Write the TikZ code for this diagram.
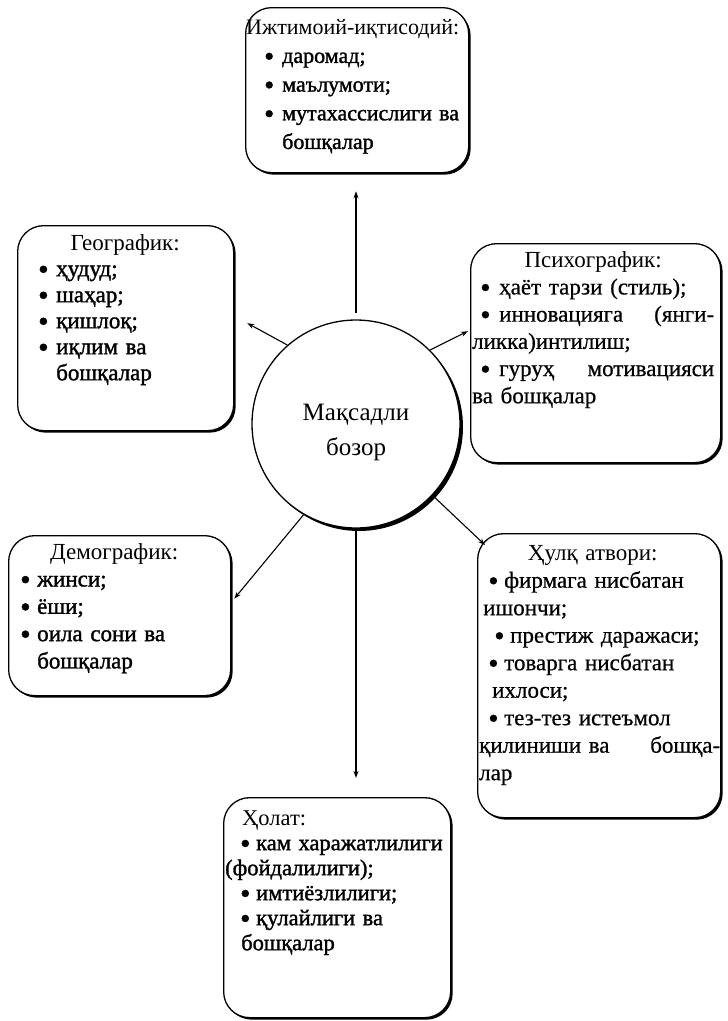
\documentclass[tikz,border=0pt]{standalone}
\usepackage{graphicx}
\usepackage{fontspec}
\setmainfont{Liberation Serif}
\newfontfamily\heavyfont{Liberation Serif}[FakeBold=1.4]
\newfontfamily\medfont{Liberation Serif}[FakeBold=0.6]
\usetikzlibrary{shadows,arrows.meta}
% large bullet placed #1 from the line start, text begins #2 later
\newcommand\bigdot{\raisebox{-0.13em}{\scalebox{1.3}{\textbullet}}}
\newcommand\dotat[2]{\hspace*{#1}\makebox[#2][l]{\bigdot}}
\begin{document}
\begin{tikzpicture}[x=1pt,y=-1pt,
  card/.style={draw, line width=1.3pt, fill=white, rounded corners=26pt,
    anchor=north west, inner sep=0pt,
    drop shadow={shadow xshift=2pt, shadow yshift=-2pt, opacity=1, fill=black}},
  hub/.style={circle, draw, line width=1.3pt, fill=white, inner sep=0pt,
    minimum size=208pt,
    drop shadow={shadow xshift=3pt, shadow yshift=-3pt, opacity=1, fill=black}},
  txt/.style={anchor=north west, inner sep=0pt, align=left},
  arr/.style={line width=1.1pt, -{Stealth[length=7pt,width=5pt]}}]
\useasboundingbox (0,0) rectangle (728,1021);

% boxes
\node[card, minimum width=223pt, minimum height=165pt] (top) at (245,7) {};
\node[card, minimum width=216pt, minimum height=205pt] (geo) at (17,225) {};
\node[card, minimum width=250pt, minimum height=219pt] (psy) at (470,243) {};
\node[card, minimum width=222pt, minimum height=160pt] (demo) at (8,535) {};
\node[card, minimum width=243pt, minimum height=284pt] (beh) at (477,533) {};
\node[card, minimum width=227pt, minimum height=220pt] (hol) at (223,797) {};
\node[hub] (c) at (356,424) {};
\node[font=\fontsize{25}{35}\selectfont, align=center] (ctext) at (356,432) {Мақсадли\\бозор};

% box texts
\node[txt, text width=222pt, font=\heavyfont\fontsize{22}{28.7}\selectfont] (toptext) at (246,13.9) {%
\strut\mbox{\rmfamily Ижтимоий-иқтисодий:}\\
\dotat{18pt}{18pt}даромад;\\
\dotat{18pt}{18pt}маълумоти;\\
\dotat{18pt}{18pt}мутахассислиги ва\\
\hspace*{36pt}бошқалар};

\node[txt, text width=174pt, font=\heavyfont\fontsize{23}{26}\selectfont] (geotext) at (38,231.8) {%
\strut\makebox[\hsize]{\rmfamily Географик:}\\
\dotat{0pt}{18pt}ҳудуд;\\
\dotat{0pt}{18pt}шаҳар;\\
\dotat{0pt}{18pt}қишлоқ;\\
\dotat{0pt}{18pt}иқлим ва\\
\hspace*{18pt}бошқалар};

\node[txt, text width=242pt, font=\medfont\fontsize{23}{27.2}\selectfont] (psytext) at (472,248) {%
\strut\makebox[\hsize]{\rmfamily Психографик:}\\
\dotat{8pt}{19pt}ҳаёт тарзи (стиль);\\
\dotat{8pt}{19pt}инновацияга\hfill(янги-\\
ликка)интилиш;\\
\dotat{8pt}{19pt}гуруҳ\hfill мотивацияси\\
ва бошқалар};

\node[txt, text width=188pt, font=\heavyfont\fontsize{23}{27.3}\selectfont] (demotext) at (20,539.9) {%
\strut\makebox[\hsize]{\rmfamily Демографик:}\\
\dotat{0pt}{17pt}жинси;\\
\dotat{0pt}{17pt}ёши;\\
\dotat{0pt}{17pt}оила сони ва\\
\hspace*{17pt}бошқалар};

\node[txt, text width=241pt, font=\medfont\fontsize{23}{27.5}\selectfont] (behtext) at (479,540.75) {%
\strut\makebox[\hsize]{\rmfamily Ҳулқ атвори:\hspace*{14pt}}\\
\dotat{9pt}{16pt}фирмага нисбатан\\
\hspace*{4pt}ишончи;\\
\dotat{15pt}{16pt}престиж даражаси;\\
\dotat{9pt}{16pt}товарга нисбатан\\
\hspace*{13pt}ихлоси;\\
\dotat{9pt}{16pt}тез-тез истеъмол\\
қилиниши ва\hfill бошқа-\\
лар};

\node[txt, text width=226pt, font=\heavyfont\fontsize{22.5}{25}\selectfont] (holtext) at (225,807.5) {%
\strut\hspace*{17pt}{\rmfamily Ҳолат:}\\
\dotat{15pt}{16pt}кам харажатлилиги\\
(фойдалилиги);\\
\dotat{15pt}{16pt}имтиёзлилиги;\\
\dotat{15pt}{16pt}қулайлиги ва\\
\hspace*{16pt}бошқалар};

% connectors from the hub
\draw[arr, shorten <=6pt, shorten >=18pt] (c.north) -- (c.north |- top.south);
\draw[arr] (c.131) -- ([xshift=13pt,yshift=5pt]geo.east);
\draw[arr] (c.45) -- ([xshift=-2pt,yshift=22pt]psy.west);
\draw[arr] (c.240) -- ([xshift=3pt,yshift=17pt]demo.east);
\draw[arr] (c.317) -- ([xshift=8pt,yshift=-12pt]beh.north west);
\draw[arr, shorten >=19pt] (c.south) -- (c.south |- hol.north);
\end{tikzpicture}
\end{document}
